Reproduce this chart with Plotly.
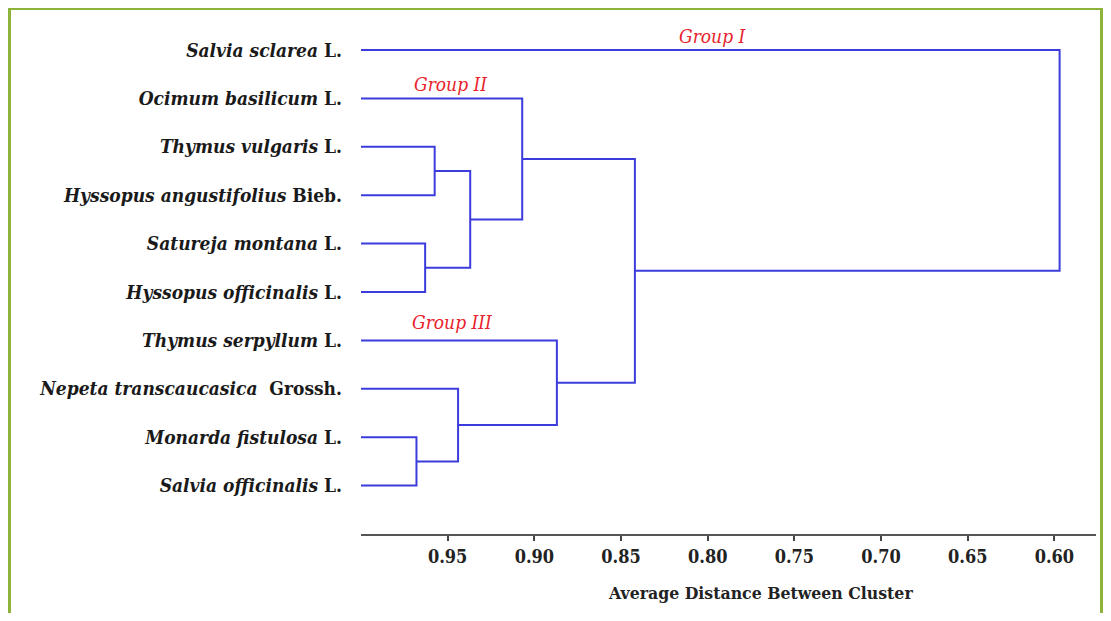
import plotly.graph_objects as go

# ---- data ----
species = ["Salvia sclarea", "Ocimum basilicum", "Thymus vulgaris", "Hyssopus angustifolius",
           "Satureja montana", "Hyssopus officinalis", "Thymus serpyllum",
           "Nepeta transcaucasica", "Monarda fistulosa", "Salvia officinalis"]
authors = ["L.", "L.", "L.", "Bieb.", "L.", "L.", "L.", "Grossh.", "L.", "L."]
leaf_distance = 1.0
# merges: (child_a, child_b, distance); ids 0-9 are leaves, 10+ are clusters in order
merge_a = [2, 4, 10, 1, 8, 7, 6, 13, 0]
merge_b = [3, 5, 11, 12, 9, 14, 15, 16, 17]
merge_h = [0.9575, 0.963, 0.937, 0.907, 0.968, 0.944, 0.887, 0.842, 0.597]
x_ticks = [0.95, 0.90, 0.85, 0.80, 0.75, 0.70, 0.65, 0.60]
group_names = ["Group I", "Group II", "Group III"]
group_leaf = [0, 1, 6]

# ---- build dendrogram geometry ----
pos_x = {i: leaf_distance for i in range(len(species))}
pos_y = {i: float(i) for i in range(len(species))}
xs, ys = [], []
for k, (a, b, h) in enumerate(zip(merge_a, merge_b, merge_h)):
    node = len(species) + k
    xs += [pos_x[a], h, h, pos_x[b], None]
    ys += [pos_y[a], pos_y[a], pos_y[b], pos_y[b], None]
    pos_x[node] = h
    pos_y[node] = (pos_y[a] + pos_y[b]) / 2

FONT = "DejaVu Serif Condensed, DejaVu Serif, serif"
fig = go.Figure()
fig.add_trace(go.Scatter(x=xs, y=ys, mode="lines",
                         line=dict(color="#3c3cdc", width=2),
                         hoverinfo="skip", showlegend=False))

ticktext = [f"<b><i>{s}</i> {a}</b>" if a != "Grossh." else f"<b><i>{s}</i>  {a}</b>"
            for s, a in zip(species, authors)]

W, H = 1095, 605
L, R, T, B = 353, 7, 2, 79
PW, PH = W - L - R, H - T - B

def px(fx):
    return (fx - L) / PW

def py(fy):
    return (H - B - fy) / PH

annotations = []
gx = [0.797, 0.948, 0.947]
gdy = [-0.29, -0.30, -0.37]
for name, leaf, x, dy in zip(group_names, group_leaf, gx, gdy):
    annotations.append(dict(x=x, y=leaf + dy, xref="x", yref="y", text=f"<i>{name}</i>",
                            showarrow=False, font=dict(family=FONT, size=19, color="#e8232b"),
                            xanchor="center", yanchor="middle"))
annotations.append(dict(x=px(752), y=py(585), xref="paper", yref="paper",
                        text="<b>Average Distance Between Cluster</b>", showarrow=False,
                        font=dict(family=FONT, size=17.5, color="#222222"),
                        xanchor="center", yanchor="middle"))

fig.update_layout(
    width=W, height=H,
    margin=dict(l=L, r=R, t=T, b=B),
    paper_bgcolor="white", plot_bgcolor="white",
    xaxis=dict(range=[1.0, 0.576], tickvals=x_ticks,
               ticktext=[f"<b>{v:.2f}</b>" for v in x_ticks],
               showgrid=False, zeroline=False, showline=True, linecolor="#555555", linewidth=2,
               ticks="outside", ticklen=5, tickwidth=2, tickcolor="#444444",
               tickfont=dict(family=FONT, size=18, color="#222222")),
    yaxis=dict(range=[10, -0.826], tickvals=list(range(len(species))), ticktext=ticktext,
               showgrid=False, zeroline=False, showline=False, ticks="",
               ticklabelstandoff=18,
               tickfont=dict(family=FONT, size=19, color="#1a1a1a")),
    annotations=annotations,
    shapes=[dict(type="rect", xref="paper", yref="paper",
                 x0=px(1.5), x1=px(W - 1.5), y0=-0.3, y1=py(0.5),
                 line=dict(color="#8db33a", width=3), fillcolor="rgba(0,0,0,0)", layer="below")],
)

fig.write_html("out.html")
